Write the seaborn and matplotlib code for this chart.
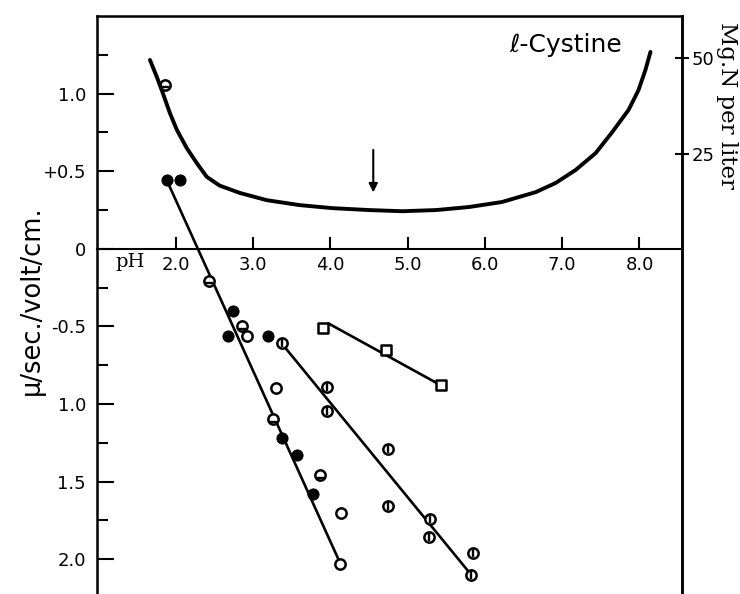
import matplotlib
matplotlib.use("Agg")
import matplotlib.pyplot as plt
import numpy as np
import pandas as pd
import seaborn as sns

# solubility curve (pH, Mg. N per liter)
curve_ph = [1.665, 1.755, 1.832, 1.923, 2.013, 2.142, 2.271, 2.400, 2.568, 2.826,
            3.174, 3.600, 4.026, 4.503, 4.929, 5.368, 5.794, 6.219, 6.658, 6.916,
            7.174, 7.432, 7.639, 7.858, 7.987, 8.077, 8.142]
curve_mgn = [49.5, 45.0, 40.8, 35.6, 31.2, 26.4, 22.5, 18.9, 16.6, 14.7,
             12.8, 11.5, 10.7, 10.2, 9.9, 10.2, 11.0, 12.3, 14.9, 17.3,
             20.7, 25.1, 30.4, 36.4, 41.6, 46.9, 51.6]

# mobility points (pH, mu/sec./volt/cm.)
filled_ph = [1.88, 2.05, 2.74, 2.67, 3.19, 3.38, 3.57, 3.77]
filled_mob = [0.445, 0.445, -0.40, -0.56, -0.565, -1.22, -1.33, -1.58]
open_ph = [2.92, 3.29, 4.14, 4.13]
open_mob = [-0.56, -0.90, -1.70, -2.03]
hbar_ph = [1.86, 2.43, 2.86, 3.26, 3.86]
hbar_mob = [1.058, -0.206, -0.50, -1.10, -1.46]
vbar_ph = [3.37, 3.95, 3.95, 4.74, 4.74, 5.29, 5.28, 5.85, 5.82]
vbar_mob = [-0.61, -0.89, -1.045, -1.29, -1.66, -1.74, -1.86, -1.96, -2.10]
square_ph = [3.91, 4.72, 5.43]
square_mob = [-0.51, -0.65, -0.88]

# fitted lines
line_a_ph, line_a_mob = [1.88, 4.13], [0.445, -2.03]
line_d_ph, line_d_mob = [3.37, 5.82], [-0.61, -2.10]
line_sq_ph, line_sq_mob = [3.97, 5.43], [-0.48, -0.88]

ph_ticks = [2, 3, 4, 5, 6, 7, 8]
mob_ticks = [1.0, 0.5, 0, -0.5, -1.0, -1.5, -2.0]
mob_labels = ["1.0", "+0.5", "0", "-0.5", "1.0", "1.5", "2.0"]
mgn_ticks = [25, 50]

ink = "black"
sns.set_style("ticks", {"axes.edgecolor": ink, "text.color": ink,
                        "xtick.color": ink, "ytick.color": ink,
                        "axes.labelcolor": ink})
plt.rcParams["font.family"] = ["DejaVu Sans"]

fig = plt.figure(figsize=(7.4, 5.94), dpi=100)
ax = fig.add_axes([97 / 740, 0.0, (682 - 97) / 740, 1 - 16 / 594])
ax2 = ax.twinx()

lw = 1.9

for xs, ys in [(line_a_ph, line_a_mob), (line_d_ph, line_d_mob), (line_sq_ph, line_sq_mob)]:
    sns.lineplot(x=xs, y=ys, ax=ax, color=ink, linewidth=lw, sort=False)

sns.scatterplot(x=filled_ph, y=filled_mob, ax=ax, marker="o", s=65,
                color=ink, edgecolor=ink, zorder=5)
sns.scatterplot(x=open_ph + hbar_ph + vbar_ph, y=open_mob + hbar_mob + vbar_mob, ax=ax,
                marker="o", s=55, facecolor="white", edgecolor=ink, linewidth=1.8, zorder=5)
ax.scatter(hbar_ph, np.array(hbar_mob) - 0.015, marker="_", s=30, color=ink,
           linewidths=1.7, zorder=6)
ax.scatter(vbar_ph, vbar_mob, marker="|", s=30, color=ink, linewidths=1.7, zorder=6)
sns.scatterplot(x=square_ph, y=square_mob, ax=ax, marker="s", s=50,
                facecolor="white", edgecolor=ink, linewidth=1.8, zorder=5)

curve = pd.DataFrame({"pH": curve_ph, "mgN": curve_mgn})
sns.lineplot(data=curve, x="pH", y="mgN", ax=ax2, color=ink, linewidth=2.8)

ax.set_xlim(0.98, 8.55)
ax.set_ylim(-2.225, 1.5)
ax2.set_ylim(-90.3, 61.0)

ax.spines["bottom"].set_position(("data", 0))
ax.spines["bottom"].set_linewidth(1.5)
for side in ["left", "top", "right"]:
    ax.spines[side].set_linewidth(1.8)
for side in ["left", "top", "bottom"]:
    ax2.spines[side].set_visible(False)
ax2.spines["right"].set_linewidth(1.8)

ax.set_xticks(ph_ticks)
ax.set_xticklabels([f"{p:.1f}" for p in ph_ticks])
ax.tick_params(axis="x", direction="in", length=9, width=1.5, pad=5, labelsize=13)
ax.set_yticks(mob_ticks)
ax.set_yticklabels(mob_labels)
ax.set_yticks([1.25, 0.75, 0.25, -0.25, -0.75, -1.25, -1.75], minor=True)
ax.tick_params(axis="y", which="major", direction="in", length=12, width=1.5,
               pad=8, labelsize=13)
ax.tick_params(axis="y", which="minor", direction="in", length=8, width=1.5)
ax2.set_yticks(mgn_ticks)
ax2.tick_params(axis="y", direction="inout", length=10, width=1.5, pad=2, labelsize=13)

ax.set_xlabel("")
ax.set_ylabel("")
ax2.set_ylabel("")

ax.text(1.41, -0.085, "pH", ha="center", va="center", fontsize=14, family="DejaVu Serif")
ax.text(6.31, 1.316, "ℓ-Cystine", ha="left", va="center", fontsize=18)
ax.annotate("", xy=(4.555, 0.345), xytext=(4.555, 0.655),
            arrowprops=dict(arrowstyle="-|>", color=ink, lw=1.5, mutation_scale=13))

fig.text(32 / 740, 1 - 300 / 594, "μ/sec./volt/cm.", rotation=90,
         ha="center", va="center", fontsize=18.5)
fig.text(727 / 740, 1 - 105 / 594, "Mg.N per liter", rotation=-90,
         ha="center", va="center", fontsize=16.5, family="DejaVu Serif")

fig.savefig("out.png", dpi=100)
